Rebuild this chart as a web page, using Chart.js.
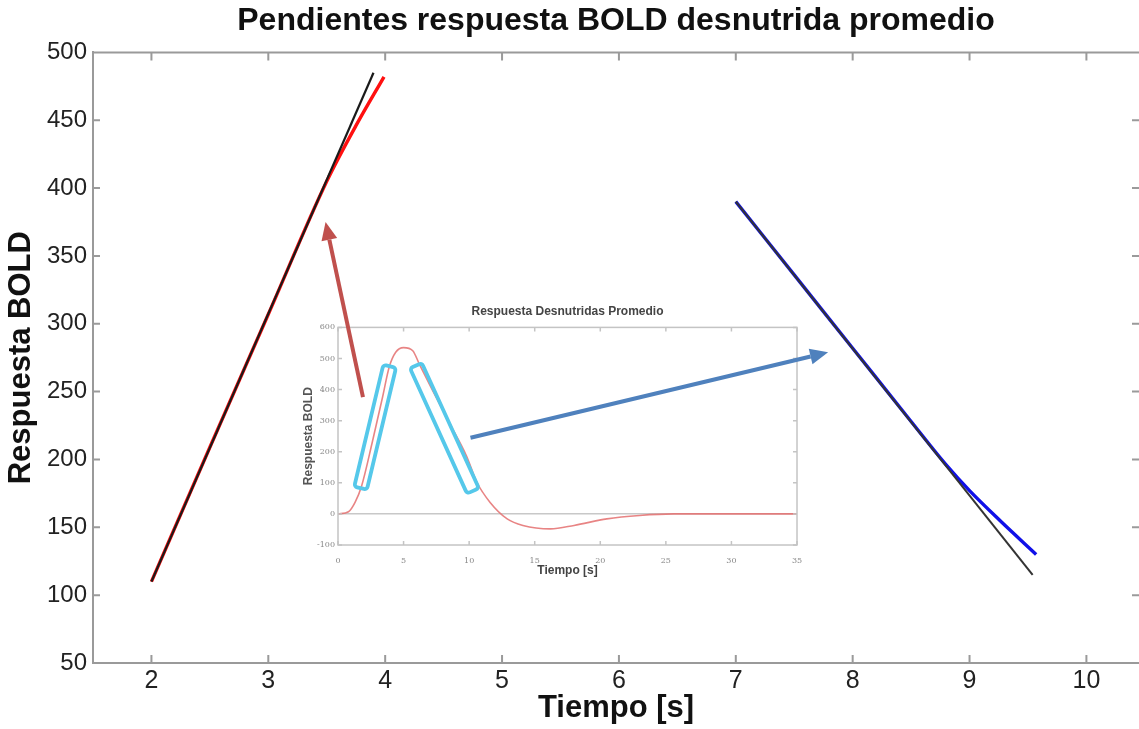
<!DOCTYPE html>
<html>
<head>
<meta charset="utf-8">
<script src="https://cdn.jsdelivr.net/npm/chart.js@4/dist/chart.umd.min.js"></script>
<style>
  html, body { margin: 0; padding: 0; background: #fff; }
  #wrap { position: relative; width: 1139px; height: 729px; }
  #wrap canvas { position: absolute; left: 0; top: 0; }
  #inset { pointer-events: none; }
</style>
</head>
<body>
<div id="wrap">
  <canvas id="main" width="1139" height="729"></canvas>
  <canvas id="inset" width="1139" height="729"></canvas>
</div>
<script>
// ticks del grafico principal
const xTicks = [2, 3, 4, 5, 6, 7, 8, 9, 10];
const yTicks = [50, 100, 150, 200, 250, 300, 350, 400, 450, 500];

// subida (respuesta en rojo, recta en negro)
const riseX   = [2, 2.5, 3, 3.5, 3.75, 3.99];
const riseRed = [110, 209, 307, 405, 446, 482];
const riseFitX = [2, 3.9];
const riseFitY = [110, 485];

// bajada (respuesta en azul, recta en negro)
const fallX    = [7, 7.5, 8, 8.5, 8.8, 9, 9.26, 9.57];
const fallBlue = [390, 336, 282, 228, 196, 177, 155, 130];
const fallFitX = [7, 9.54];
const fallFitY = [390, 115];

// flechas (en unidades del grafico principal)
const arrowRed  = { from: [3.81, 246], to: [3.49, 375] };
const arrowBlue = { from: [4.73, 216], to: [7.79, 279] };

// grafico pequeño: respuesta promedio
const insetT = [0, 0.8, 1.3, 1.8, 2.6, 3.4, 3.9, 4.4, 5, 5.7, 6.2, 7.2, 8.5, 9.8, 10.6, 11.6, 12.9, 14.1, 16.2, 18, 20.5, 23, 25.6, 30, 35];
const insetV = [0, 7, 37, 90, 228, 376, 472, 520, 535, 525, 482, 398, 292, 186, 101, 37, -16, -37, -48, -37, -16, -5, 0, 0, 0];
const insetXTicks = [0, 5, 10, 15, 20, 25, 30, 35];
const insetYTicks = [-100, 0, 100, 200, 300, 400, 500, 600];
// recuadros cian sobre las pendientes
const boxes = [
  { from: [1.72, 83], to: [3.94, 475] },
  { from: [5.94, 477], to: [10.29, 74] }
];

const FONT = "'Liberation Sans', Arial, sans-serif";
const pts = (xs, ys) => xs.map((x, i) => ({ x: x, y: ys[i] }));

const mainFrame = {
  id: 'mainFrame',
  afterDraw(chart) {
    const { ctx, chartArea: a, scales: { x, y } } = chart;
    ctx.save();
    ctx.strokeStyle = '#9a9a9a';
    ctx.lineWidth = 2;
    ctx.beginPath();
    ctx.moveTo(a.left, a.top);
    ctx.lineTo(a.right, a.top);
    xTicks.forEach(v => {
      const px = x.getPixelForValue(v);
      ctx.moveTo(px, a.bottom); ctx.lineTo(px, a.bottom - 8);
      ctx.moveTo(px, a.top); ctx.lineTo(px, a.top + 8);
    });
    yTicks.forEach(v => {
      const py = y.getPixelForValue(v);
      ctx.moveTo(a.left, py); ctx.lineTo(a.left + 7, py);
      ctx.moveTo(a.right, py); ctx.lineTo(a.right - 7, py);
    });
    ctx.stroke();
    ctx.restore();
  }
};

const mainChart = new Chart(document.getElementById('main'), {
  type: 'line',
  data: {
    datasets: [
      { data: pts(riseFitX, riseFitY), borderColor: '#1a1a1a', borderWidth: 2.2, order: 1 },
      { data: pts(riseX, riseRed), borderColor: '#ff1010', borderWidth: 3.4, cubicInterpolationMode: 'monotone', order: 2 },
      { data: pts(fallFitX, fallFitY), borderColor: '#333', borderWidth: 2, order: 1 },
      { data: pts(fallX, fallBlue), borderColor: '#1010e8', borderWidth: 3.4, cubicInterpolationMode: 'monotone', order: 2 }
    ]
  },
  options: {
    responsive: false,
    animation: false,
    elements: { point: { radius: 0 } },
    layout: { padding: 0 },
    plugins: {
      legend: { display: false },
      tooltip: { enabled: false },
      title: {
        display: true,
        text: 'Pendientes respuesta BOLD desnutrida promedio',
        fullSize: false,
        color: '#111',
        font: { family: FONT, size: 32, weight: 'bold' },
        padding: { top: 2, bottom: 12 }
      }
    },
    scales: {
      x: {
        type: 'linear',
        min: 1.5,
        max: 10.45,
        afterBuildTicks: s => { s.ticks = xTicks.map(v => ({ value: v })); },
        afterFit: s => { s.height = 66; },
        grid: { drawOnChartArea: false, drawTicks: false },
        border: { color: '#9a9a9a', width: 2 },
        ticks: { color: '#222', padding: 3, font: { family: FONT, size: 25 } },
        title: { display: true, text: 'Tiempo [s]', color: '#111', padding: { top: 0, bottom: 2 }, font: { family: FONT, size: 31, weight: 'bold' } }
      },
      y: {
        min: 50,
        max: 500,
        afterBuildTicks: s => { s.ticks = yTicks.map(v => ({ value: v })); },
        afterFit: s => { s.width = 93; },
        grid: { drawOnChartArea: false, drawTicks: false },
        border: { color: '#9a9a9a', width: 2 },
        ticks: { color: '#222', padding: 6, font: { family: FONT, size: 24 } },
        title: { display: true, text: 'Respuesta BOLD', color: '#111', padding: { top: 3, bottom: 0 }, font: { family: FONT, size: 31, weight: 'bold' } }
      }
    }
  },
  plugins: [mainFrame]
});

function drawArrow(ctx, x1, y1, x2, y2, color) {
  const ang = Math.atan2(y2 - y1, x2 - x1);
  const head = 18, hw = 8;
  const bx = x2 - head * Math.cos(ang), by = y2 - head * Math.sin(ang);
  ctx.strokeStyle = color;
  ctx.fillStyle = color;
  ctx.lineWidth = 4;
  ctx.beginPath();
  ctx.moveTo(x1, y1);
  ctx.lineTo(bx, by);
  ctx.stroke();
  ctx.beginPath();
  ctx.moveTo(x2, y2);
  ctx.lineTo(bx + hw * Math.sin(ang), by - hw * Math.cos(ang));
  ctx.lineTo(bx - hw * Math.sin(ang), by + hw * Math.cos(ang));
  ctx.closePath();
  ctx.fill();
}

const insetDecor = {
  id: 'insetDecor',
  beforeDraw(chart) {
    const { ctx, chartArea: a } = chart;
    ctx.save();
    ctx.fillStyle = '#fff';
    ctx.fillRect(a.left, a.top, a.right - a.left, a.bottom - a.top);
    ctx.restore();
  },
  afterDraw(chart) {
    const { ctx, chartArea: a, scales: { x, y } } = chart;
    ctx.save();
    // marco y ticks
    ctx.strokeStyle = '#c4c4c4';
    ctx.lineWidth = 1.5;
    ctx.strokeRect(a.left, a.top, a.right - a.left, a.bottom - a.top);
    ctx.beginPath();
    insetXTicks.forEach(v => {
      const px = x.getPixelForValue(v);
      ctx.moveTo(px, a.bottom); ctx.lineTo(px, a.bottom - 4);
      ctx.moveTo(px, a.top); ctx.lineTo(px, a.top + 4);
    });
    insetYTicks.forEach(v => {
      const py = y.getPixelForValue(v);
      ctx.moveTo(a.left, py); ctx.lineTo(a.left + 4, py);
      ctx.moveTo(a.right, py); ctx.lineTo(a.right - 4, py);
    });
    ctx.stroke();

    // recuadros cian
    ctx.strokeStyle = '#55c8ea';
    ctx.lineWidth = 3.8;
    boxes.forEach(b => {
      const x1 = x.getPixelForValue(b.from[0]), y1 = y.getPixelForValue(b.from[1]);
      const x2 = x.getPixelForValue(b.to[0]), y2 = y.getPixelForValue(b.to[1]);
      const len = Math.hypot(x2 - x1, y2 - y1);
      ctx.save();
      ctx.translate(x1, y1);
      ctx.rotate(Math.atan2(y2 - y1, x2 - x1));
      ctx.beginPath();
      if (ctx.roundRect) ctx.roundRect(0, -6.5, len, 13, 3);
      else ctx.rect(0, -6.5, len, 13);
      ctx.stroke();
      ctx.restore();
    });

    // flechas, en coordenadas del grafico principal
    const mx = mainChart.scales.x, my = mainChart.scales.y;
    drawArrow(ctx, mx.getPixelForValue(arrowRed.from[0]), my.getPixelForValue(arrowRed.from[1]),
      mx.getPixelForValue(arrowRed.to[0]), my.getPixelForValue(arrowRed.to[1]), '#c0504d');
    drawArrow(ctx, mx.getPixelForValue(arrowBlue.from[0]), my.getPixelForValue(arrowBlue.from[1]),
      mx.getPixelForValue(arrowBlue.to[0]), my.getPixelForValue(arrowBlue.to[1]), '#4f81bd');
    ctx.restore();
  }
};

const insetChart = new Chart(document.getElementById('inset'), {
  type: 'line',
  data: {
    datasets: [
      { data: pts(insetT, insetV), borderColor: 'rgba(228,110,110,0.85)', borderWidth: 1.6, cubicInterpolationMode: 'monotone' }
    ]
  },
  options: {
    responsive: false,
    animation: false,
    events: [],
    elements: { point: { radius: 0 } },
    layout: { padding: { left: 300, right: 342, top: 300, bottom: 149 } },
    plugins: {
      legend: { display: false },
      tooltip: { enabled: false },
      title: {
        display: true,
        text: 'Respuesta Desnutridas Promedio',
        fullSize: false,
        color: '#444',
        font: { family: FONT, size: 12, weight: 'bold' },
        padding: { top: 4, bottom: 9 }
      }
    },
    scales: {
      x: {
        type: 'linear',
        min: 0,
        max: 35,
        afterBuildTicks: s => { s.ticks = insetXTicks.map(v => ({ value: v })); },
        afterFit: s => { s.height = 35; },
        grid: { display: false },
        border: { display: false },
        ticks: { color: '#888', padding: 3, font: { family: 'DejaVu Serif', size: 8 } },
        title: { display: true, text: 'Tiempo [s]', color: '#444', padding: { top: 0, bottom: 2 }, font: { family: FONT, size: 12, weight: 'bold' } }
      },
      y: {
        min: -100,
        max: 600,
        afterBuildTicks: s => { s.ticks = insetYTicks.map(v => ({ value: v })); },
        afterFit: s => { s.width = 38; },
        grid: { drawTicks: false, color: c => c.tick && c.tick.value === 0 ? '#c8c8c8' : 'rgba(0,0,0,0)', lineWidth: 1.5 },
        border: { display: false },
        ticks: { color: '#888', padding: 3, font: { family: 'DejaVu Serif', size: 8 } },
        title: { display: true, text: 'Respuesta BOLD', color: '#555', padding: { top: 1, bottom: 0 }, font: { family: FONT, size: 12, weight: 'bold' } }
      }
    }
  },
  plugins: [insetDecor]
});
</script>
</body>
</html>
